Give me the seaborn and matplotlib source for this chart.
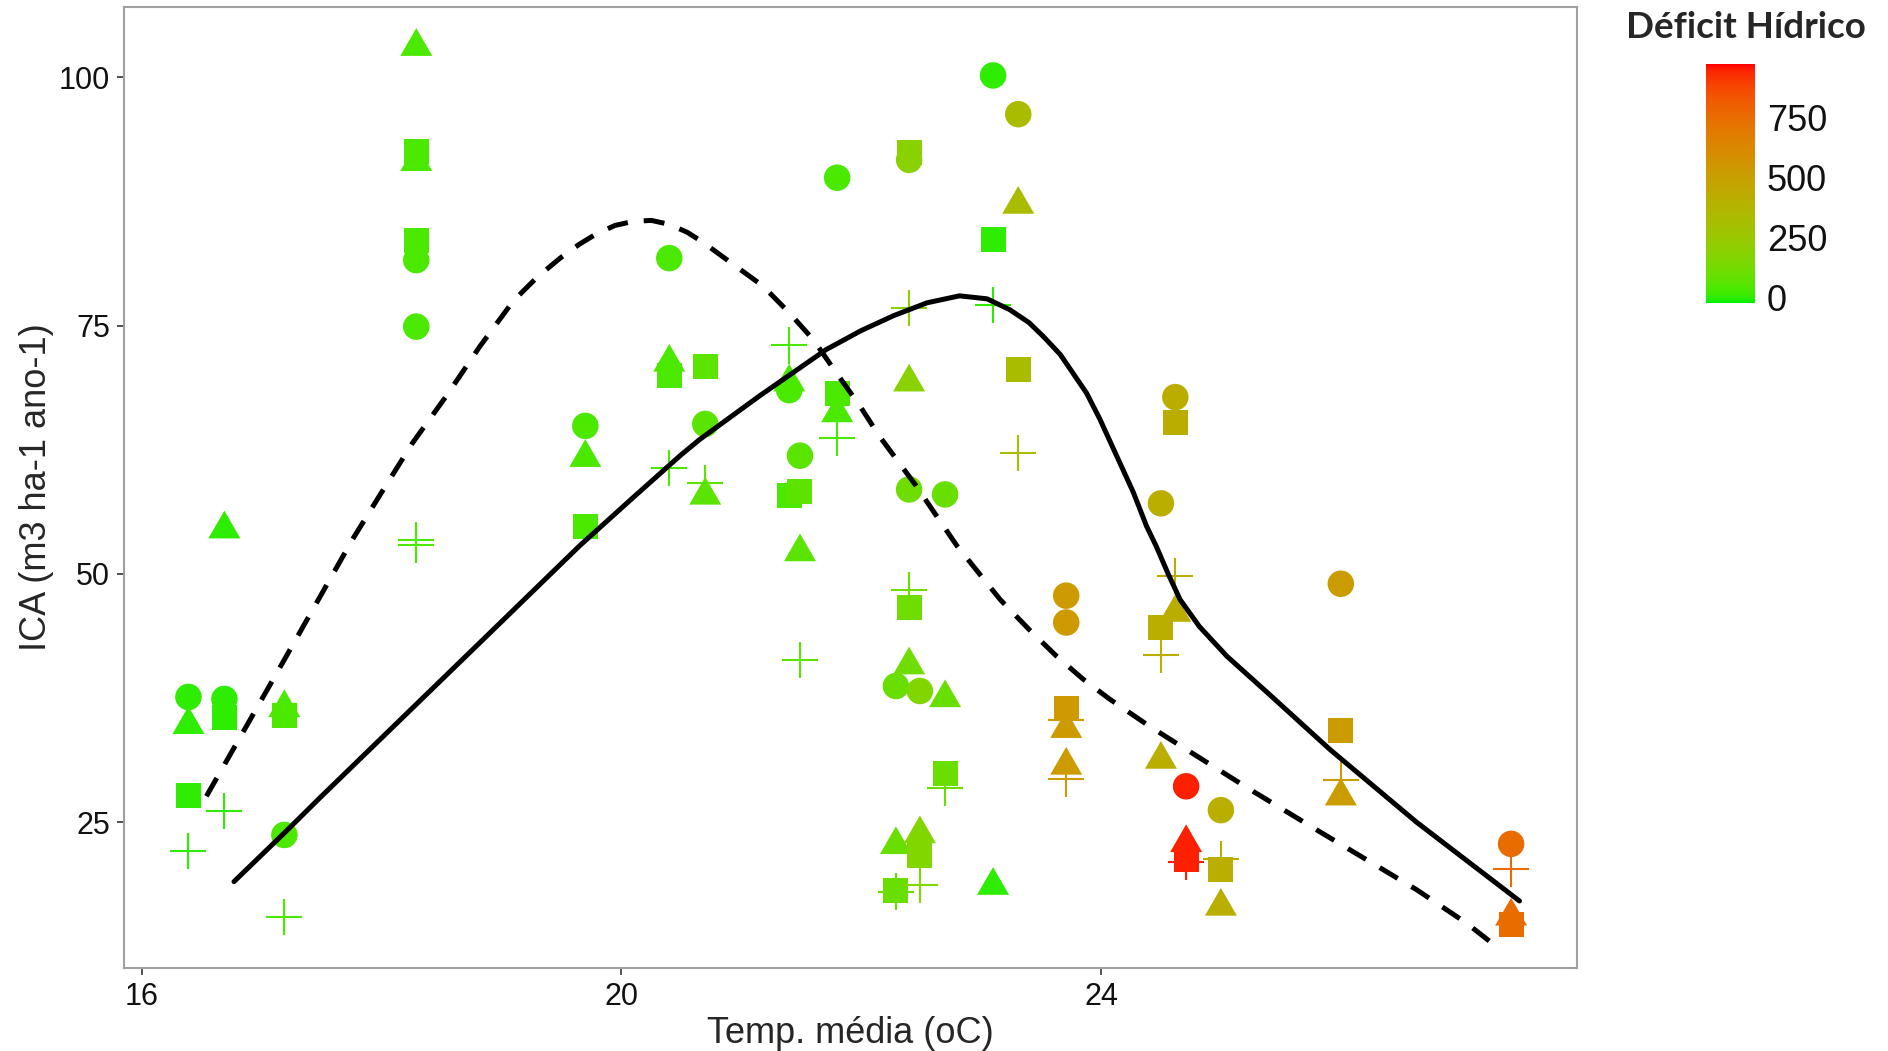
import numpy as np
import pandas as pd
import matplotlib
matplotlib.use("Agg")
import matplotlib.pyplot as plt
import seaborn as sns
from matplotlib.colors import LinearSegmentedColormap, Normalize, to_rgb
from matplotlib.cm import ScalarMappable

# one entry per site: mean temperature (oC) and water deficit
site_temp = [16.39, 16.69, 17.19, 18.29, 18.29, 19.70, 20.40, 20.70, 21.40, 21.49,
             21.80, 22.40, 22.40, 22.29, 22.49, 22.70, 23.10, 23.31, 23.71, 23.71,
             24.62, 24.50, 24.71, 25.00, 26.00, 27.42]
site_deficit = [0, 0, 35, 35, 35, 35, 35, 65, 35, 65,
                35, 190, 110, 95, 160, 95, 0, 330, 530, 530,
                420, 410, 950, 410, 520, 750]

# ICA of the four groups at each site (nan = no point)
ica_circle = [37.6, 37.4, 23.7, 81.6, 74.9, 64.9, 81.8, 65.1, 68.5, 61.9,
              89.9, 91.7, 58.5, 38.7, 38.2, 58.0, 100.2, 96.3, 47.8, 45.1,
              67.8, 57.1, 28.6, 26.2, 49.0, 22.8]
ica_triangle = [34.8, 54.5, 36.5, 103.1, 91.5, 61.7, 71.3, 57.9, 69.3, 52.2,
                66.2, 69.3, 40.8, 22.7, 23.8, 37.5, 18.6, 87.2, 34.4, 30.7,
                46.1, 31.3, 22.9, 16.5, 27.6, 15.5]
ica_square = [27.7, 35.5, 35.7, 92.5, 83.6, 54.8, 70.0, 70.9, 57.9, 58.3,
              68.2, 92.4, 46.6, 18.1, 21.6, 29.9, 83.7, 70.6, 36.4, np.nan,
              65.2, 44.6, 21.2, 20.2, 34.2, 14.7]
ica_plus = [22.1, 26.1, 15.4, 53.4, 52.9, np.nan, 60.7, 59.1, 73.0, 41.3,
            63.7, 76.8, 48.4, 18.0, 18.7, 28.4, 77.1, 62.2, 35.3, 29.3,
            49.8, 41.8, 21.0, 21.3, 29.2, 20.3]

# fitted curves
solid_temp = [16.77, 17.19, 17.5, 18.2, 18.9, 19.65, 20.1, 20.49, 20.65, 21.15,
              21.71, 22.0, 22.27, 22.55, 22.82, 23.05, 23.24, 23.40, 23.52, 23.66,
              23.88, 23.99, 24.13, 24.27, 24.38, 24.46, 24.56, 24.66, 24.82, 25.05,
              25.4, 25.91, 26.63, 27.49]
solid_ica = [19.0, 23.9, 27.6, 35.8, 44.0, 52.8, 57.7, 61.9, 63.5, 67.9,
             72.6, 74.5, 76.0, 77.3, 78.0, 77.7, 76.6, 75.3, 73.9, 72.1,
             68.2, 65.6, 61.9, 58.2, 54.8, 52.8, 50.0, 47.4, 44.7, 41.7,
             37.9, 32.3, 25.0, 17.05]
dashed_temp = [16.54, 17.15, 17.76, 17.98, 18.26, 18.54, 18.82, 19.10, 19.30, 19.49,
               19.65, 19.80, 19.95, 20.10, 20.25, 20.40, 20.55, 20.68, 20.93, 21.18,
               21.40, 21.60, 21.79, 21.99, 22.15, 22.45, 22.8, 23.16, 23.40, 23.63,
               23.85, 24.07, 24.41, 25.24, 25.80, 26.63, 27.05, 27.24]
dashed_ica = [27.6, 40.5, 53.5, 57.8, 63.2, 67.9, 72.9, 77.5, 79.9, 81.8,
              83.2, 84.3, 85.1, 85.5, 85.6, 85.2, 84.4, 83.4, 81.2, 79.0,
              76.3, 73.6, 70.3, 66.9, 63.9, 59.0, 52.8, 47.4, 44.4, 41.7,
              39.4, 37.4, 34.6, 28.3, 24.2, 18.2, 14.8, 13.0]


def hex_to_lab(h):
    rgb = np.array(to_rgb(h))
    lin = np.where(rgb <= 0.04045, rgb / 12.92, ((rgb + 0.055) / 1.055) ** 2.4)
    m = np.array([[0.4124, 0.3576, 0.1805], [0.2126, 0.7152, 0.0722], [0.0193, 0.1192, 0.9505]])
    xyz = m @ lin / np.array([0.95047, 1.0, 1.08883])
    f = np.where(xyz > 0.008856, np.cbrt(xyz), 7.787 * xyz + 16 / 116)
    return np.array([116 * f[1] - 16, 500 * (f[0] - f[1]), 200 * (f[1] - f[2])])


def lab_to_rgb(lab):
    fy = (lab[0] + 16) / 116
    f = np.array([fy + lab[1] / 500, fy, fy - lab[2] / 200])
    xyz = np.where(f > 0.2069, f ** 3, (f - 16 / 116) / 7.787) * np.array([0.95047, 1.0, 1.08883])
    minv = np.array([[3.2406, -1.5372, -0.4986], [-0.9689, 1.8758, 0.0415], [0.0557, -0.2040, 1.0570]])
    lin = np.clip(minv @ xyz, 0, 1)
    return np.clip(np.where(lin <= 0.0031308, 12.92 * lin, 1.055 * lin ** (1 / 2.4) - 0.055), 0, 1)


# green -> red gradient interpolated in Lab, like ggplot's scale_colour_gradient
lab_lo, lab_hi = hex_to_lab("#00F000"), hex_to_lab("#FF0000")
cmap = LinearSegmentedColormap.from_list(
    "deficit", [lab_to_rgb(lab_lo * (1 - t) + lab_hi * t) for t in np.linspace(0, 1, 64)])
norm = Normalize(-24, 974)

sns.set_style("white")
plt.rcParams["font.family"] = ["Liberation Sans", "DejaVu Sans"]

fig = plt.figure(figsize=(18.88, 10.51), dpi=100)
ax = fig.add_axes([0.0655, 0.079, 0.7698, 0.9144])

tri = [(-1, -0.577), (1, -0.577), (0, 1.155)]
groups = [(ica_circle, "o", 364, 0), (ica_triangle, tri, 709, 0),
          (ica_square, "s", 324, 0), (ica_plus, "+", 676, 1.5)]
for vals, mk, size, lw in groups:
    df = pd.DataFrame({"temp": site_temp, "ica": vals, "deficit": site_deficit}).dropna()
    sns.scatterplot(data=df, x="temp", y="ica", hue="deficit", palette=cmap, hue_norm=norm,
                    marker=mk, s=size, linewidth=lw, legend=False, ax=ax, zorder=2)

sns.lineplot(x=solid_temp, y=solid_ica, sort=False, estimator=None, color="black",
             linewidth=3.6, ax=ax, zorder=5)
sns.lineplot(x=dashed_temp, y=dashed_ica, sort=False, estimator=None, color="black",
             linewidth=3.6, linestyle=(0, (4.2, 3.2)), ax=ax, zorder=5)

ax.set_xlim(15.85, 27.97)
ax.set_ylim(10.3, 107.1)
ax.set_xticks([16, 20, 24])
ax.set_yticks([25, 50, 75, 100])
ax.tick_params(bottom=True, left=True, length=5, width=1.2, color="#333333", labelsize=22,
               pad=5, labelcolor="#111111")
for sp in ax.spines.values():
    sp.set_color("#a0a0a0")
    sp.set_linewidth(1.5)
ax.set_xlabel("Temp. média (oC)", fontsize=26, labelpad=3)
ax.set_ylabel("ICA (m3 ha-1 ano-1)", fontsize=26, labelpad=3)
ax.grid(False)

cax = fig.add_axes([1706 / 1888, (1051 - 303) / 1051, 49 / 1888, 239 / 1051])
cb = fig.colorbar(ScalarMappable(norm=norm, cmap=cmap), cax=cax, ticks=[0, 250, 500, 750])
cb.outline.set_visible(False)
cax.tick_params(direction="in", length=7, width=1.5, color="white", labelcolor="#111111",
                left=True, right=True, labelsize=26, pad=8.5)

fig.text(1746 / 1888, 1 - 27 / 1051, "Déficit Hídrico", ha="center", va="center",
         fontsize=26.5, fontweight="bold", family=["Lato", "DejaVu Sans"])

fig.savefig("out.png", dpi=100)
